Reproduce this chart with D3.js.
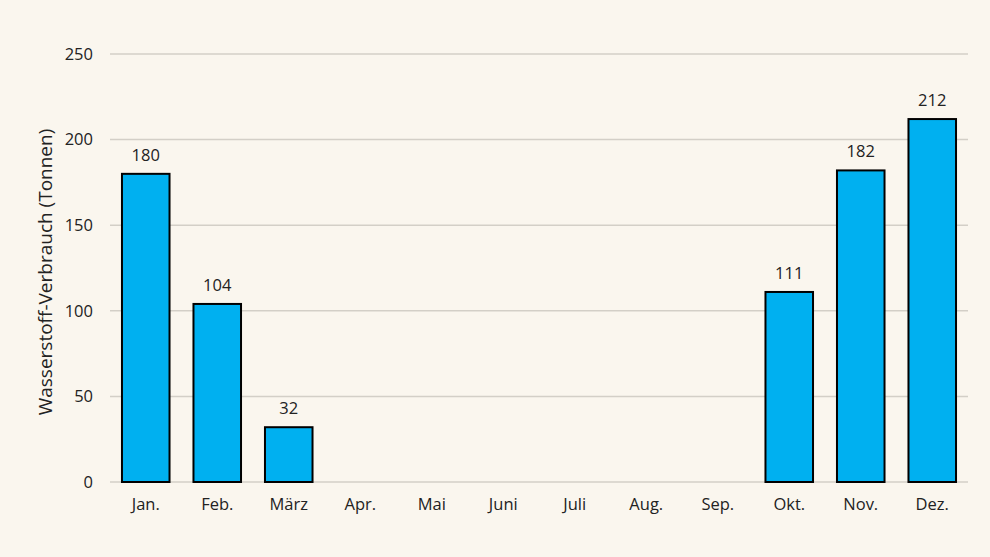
<!DOCTYPE html>
<html><head><meta charset="utf-8">
<script src="https://cdn.jsdelivr.net/npm/d3@7"></script>
<style>
html,body{margin:0;padding:0;background:#faf6ee;}
svg{display:block;}
svg text{font-family:"Open Sans","Liberation Sans",sans-serif;}
</style></head>
<body>
<svg id="c" width="990" height="557"></svg>
<script>
const months = ["Jan.","Feb.","März","Apr.","Mai","Juni","Juli","Aug.","Sep.","Okt.","Nov.","Dez."];
const values = [180,104,32,null,null,null,null,null,null,111,182,212];
const yTicks = [0,50,100,150,200,250];
const yTitle = "Wasserstoff-Verbrauch (Tonnen)";

const svg = d3.select("#c");
svg.append("rect").attr("width",990).attr("height",557).attr("fill","#faf6ee");

const x = d3.scaleBand().domain(months).range([110,968]).paddingInner(0.335).paddingOuter(0.1675);
const y = d3.scaleLinear().domain([0,250]).range([482,54]);

// gridlines
svg.append("g").selectAll("line").data(yTicks).join("line")
  .attr("x1",110).attr("x2",968).attr("y1",d=>y(d)).attr("y2",d=>y(d))
  .attr("stroke","#d3cfc7").attr("stroke-width",1.5);

const yAxis = d3.axisLeft(y).tickValues(yTicks).tickSize(0).tickPadding(17);
const gy = svg.append("g").attr("transform","translate(110,0)").call(yAxis);
gy.select(".domain").remove();
gy.selectAll("text").attr("font-size",16.5).attr("fill","#222")
  .style("font-family",'"Open Sans","Liberation Sans",sans-serif');

// bars
const data = months.map((m,i)=>({m, v: values[i]})).filter(d=>d.v!=null);
svg.append("g").selectAll("rect").data(data).join("rect")
  .attr("x",d=>x(d.m)).attr("width",x.bandwidth())
  .attr("y",d=>y(d.v)).attr("height",d=>y(0)-y(d.v))
  .attr("fill","#00b0f0").attr("stroke","#000").attr("stroke-width",2);

svg.append("g").selectAll("text").data(data).join("text")
  .attr("x",d=>x(d.m)+x.bandwidth()/2).attr("y",d=>y(d.v)-13)
  .attr("text-anchor","middle").attr("font-size",16.5).attr("fill","#222").text(d=>d.v);

// x axis
const xAxis = d3.axisBottom(x).tickSize(0).tickPadding(16);
const gx = svg.append("g").attr("transform","translate(0,482)").call(xAxis);
gx.select(".domain").remove();
gx.selectAll("text").attr("font-size",16.5).attr("fill","#222")
  .style("font-family",'"Open Sans","Liberation Sans",sans-serif');

svg.append("text").attr("transform","translate(52,272) rotate(-90)")
  .attr("text-anchor","middle").attr("font-size",19).attr("fill","#222").text(yTitle);
</script>
</body></html>
